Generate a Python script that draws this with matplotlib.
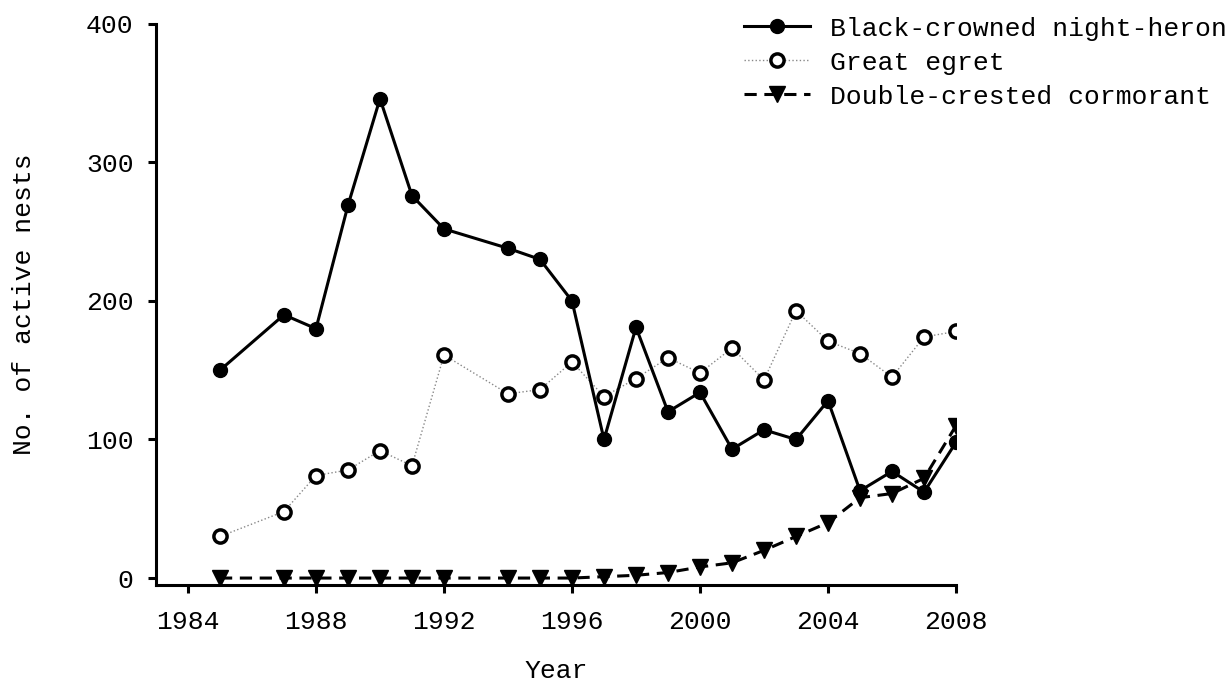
import matplotlib
matplotlib.use("Agg")
import matplotlib.pyplot as plt

plt.rcParams['font.family'] = ['Liberation Mono', 'DejaVu Sans Mono']

# nest counts
years = [1985, 1987, 1988, 1989, 1990, 1991, 1992, 1994, 1995, 1996, 1997,
         1998, 1999, 2000, 2001, 2002, 2003, 2004, 2005, 2006, 2007, 2008]
heron = [150, 190, 180, 269, 346, 276, 252, 238, 230, 200, 100,
         181, 120, 134, 93, 107, 100, 128, 63, 77, 62, 98]
egret = [30, 48, 74, 78, 92, 81, 161, 133, 136, 156, 131,
         144, 159, 148, 166, 143, 193, 171, 162, 145, 174, 178]
cormorant = [0, 0, 0, 0, 0, 0, 0, 0, 0, 0, 1,
             2, 4, 8, 11, 20, 30, 40, 58, 61, 72, 110]

series_names = ['Black-crowned night-heron', 'Great egret', 'Double-crested cormorant']
xticks = [1984, 1988, 1992, 1996, 2000, 2004, 2008]
yticks = [0, 100, 200, 300, 400]

fig = plt.figure(figsize=(12.32, 6.81), dpi=100)
ax = fig.add_axes([0.1266, 0.141, 0.6494, 0.824])

ax.plot(years, egret, linestyle=':', color='#888888', lw=1.0,
        marker='o', ms=9.5, mfc='white', mec='black', mew=2.5,
        label=series_names[1], zorder=2)
ax.plot(years, cormorant, linestyle=(0, (4, 2.5)), color='black', lw=2.2,
        marker='v', ms=11, mfc='black', mec='black',
        label=series_names[2], zorder=3)
ax.plot(years, heron, linestyle='-', color='black', lw=2.2,
        marker='o', ms=10, mfc='black', mec='black',
        label=series_names[0], zorder=4)

ax.set_xlim(1983, 2008)
ax.set_ylim(-5, 400)
ax.set_xticks(xticks)
ax.set_yticks(yticks)

for s in ['top', 'right']:
    ax.spines[s].set_visible(False)
for s in ['left', 'bottom']:
    ax.spines[s].set_linewidth(2.2)
ax.tick_params(width=2.2, length=6, labelsize=19, direction='out')
ax.tick_params(axis='x', pad=12)
ax.tick_params(axis='y', pad=10)

ax.set_xlabel('Year', fontsize=19, labelpad=18)
ax.set_ylabel('No. of active nests', fontsize=19, labelpad=36)

h, l = ax.get_legend_handles_labels()
order = [2, 0, 1]
fig.legend([h[i] for i in order], [l[i] for i in order],
           loc='upper left', bbox_to_anchor=(0.593, 0.995),
           frameon=False, fontsize=19, handlelength=2.5,
           handletextpad=0.75, labelspacing=0.38, borderpad=0)

fig.savefig('out.png', dpi=100)
